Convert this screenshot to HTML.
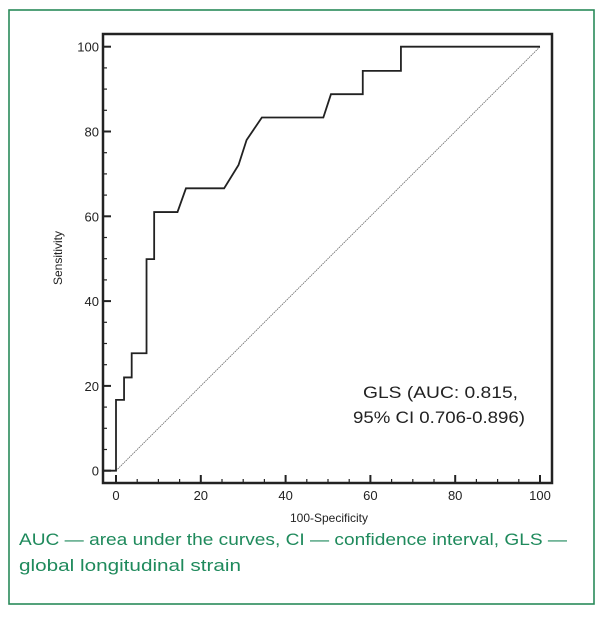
<!DOCTYPE html>
<html><head><meta charset="utf-8"><style>
body{margin:0;background:#fff;width:600px;height:616px;overflow:hidden;font-family:"Liberation Sans",sans-serif}
</style></head><body>
<svg width="600" height="616">
<rect x="9" y="10" width="585" height="594" fill="none" stroke="#2a8a5a" stroke-width="1.6"/>
<rect x="103" y="34" width="449" height="449" fill="none" stroke="#222" stroke-width="2.5"/>
<g id="ticks"></g>
<g id="labels" font-size="13" fill="#222"></g>
<line id="diag" stroke="#666" stroke-width="0.8" stroke-dasharray="1.5 0.8"/>
<polyline id="roc" fill="none" stroke="#222" stroke-width="1.8"/>
<text x="62" y="258" font-size="12" fill="#222" text-anchor="middle" transform="rotate(-90 62 258)">Sensitivity</text>
<text x="329" y="522" font-size="12" fill="#222" text-anchor="middle">100-Specificity</text>
<text x="363" y="398" font-size="17" fill="#222" textLength="155" lengthAdjust="spacingAndGlyphs">GLS (AUC: 0.815,</text>
<text x="353" y="423" font-size="17" fill="#222" textLength="172" lengthAdjust="spacingAndGlyphs">95% CI 0.706-0.896)</text>
<text x="19" y="545" font-size="17" fill="#1f8a5c" textLength="548" lengthAdjust="spacingAndGlyphs">AUC — area under the curves, CI — confidence interval, GLS —</text>
<text x="19" y="571" font-size="17" fill="#1f8a5c" textLength="222" lengthAdjust="spacingAndGlyphs">global longitudinal strain</text>
</svg>
<script>
const rocX=[-3,0,0,1.9,1.9,3.7,3.7,7.2,7.2,9.0,9.0,14.5,16.5,25.5,28.9,30.8,34.4,48.9,50.7,58.2,58.2,67.2,67.2,100];
const rocY=[0,0,16.7,16.7,22.0,22.0,27.7,27.7,49.9,49.9,61.0,61.0,66.6,66.6,72.1,78.0,83.3,83.3,88.8,88.8,94.3,94.3,100,100];
const xTicks=[0,20,40,60,80,100];
const yTicks=[0,20,40,60,80,100];
const sx=v=>116+v*4.24, sy=v=>470.7-v*4.24;
const NS="http://www.w3.org/2000/svg";
document.getElementById('roc').setAttribute('points',rocX.map((x,i)=>sx(x)+','+sy(rocY[i])).join(' '));
const d=document.getElementById('diag');
d.setAttribute('x1',sx(0));d.setAttribute('y1',sy(0));d.setAttribute('x2',sx(100));d.setAttribute('y2',sy(100));
const tg=document.getElementById('ticks'),lg=document.getElementById('labels');
for(let v=0;v<=100;v+=5){
 const major=v%20===0;
 const a=document.createElementNS(NS,'line');
 
 
 a.setAttribute('x1',sx(v));a.setAttribute('x2',sx(v));a.setAttribute('y1',483);a.setAttribute('y2',major?475:479);
 a.setAttribute('stroke','#222');a.setAttribute('stroke-width',major?2:1.2);tg.appendChild(a);
 const b=document.createElementNS(NS,'line');
 
 
 b.setAttribute('y1',sy(v));b.setAttribute('y2',sy(v));b.setAttribute('x1',103);b.setAttribute('x2',major?111:107);
 b.setAttribute('stroke','#222');b.setAttribute('stroke-width',major?2:1.2);tg.appendChild(b);
}
xTicks.forEach(v=>{const t=document.createElementNS(NS,'text');
 
 
 t.setAttribute('x',sx(v));t.setAttribute('y',500);t.setAttribute('text-anchor','middle');t.textContent=v;lg.appendChild(t);});
yTicks.forEach(v=>{const t=document.createElementNS(NS,'text');
 
 
 t.setAttribute('x',99);t.setAttribute('y',sy(v)+5);t.setAttribute('text-anchor','end');t.textContent=v;lg.appendChild(t);});
</script>
</body></html>
